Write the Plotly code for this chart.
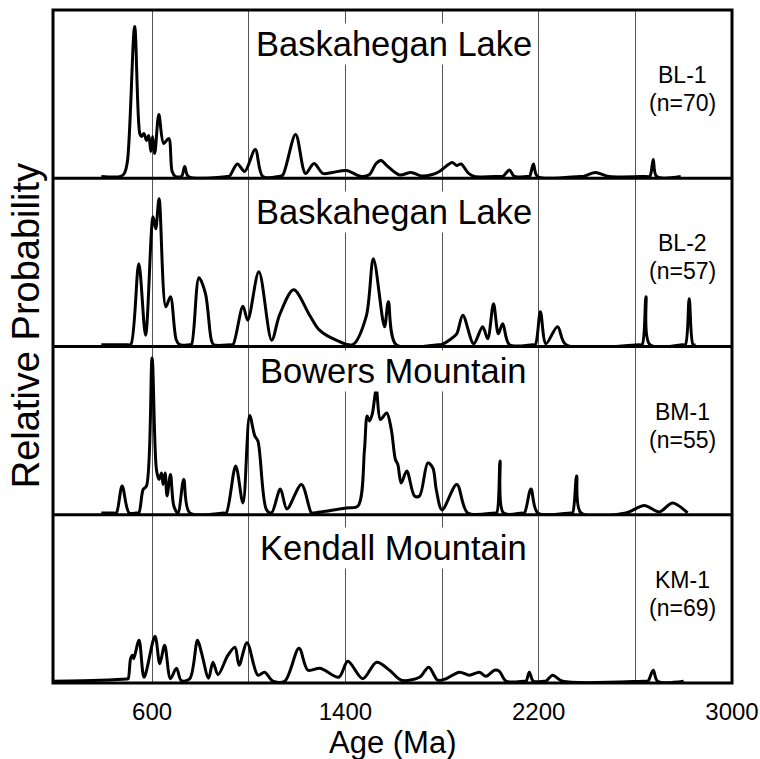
import plotly.graph_objects as go
from plotly.subplots import make_subplots

# ---------------- data ----------------
BL1_AGE = [390, 470, 485, 498, 528, 549, 556, 566, 577, 586, 595, 602, 611, 628, 648, 669, 683, 697,
           722, 735, 750, 910, 921, 953, 983, 1027, 1058, 1125, 1140, 1194, 1235, 1270, 1307, 1347,
           1404, 1466, 1500, 1527, 1548, 1575, 1624, 1672, 1714, 1760, 1789, 1842, 1860, 1879, 1910,
           1934, 2040, 2052, 2079, 2099, 2150, 2162, 2178, 2195, 2370, 2385, 2434, 2492, 2645, 2660,
           2674, 2688, 2788]
BL1_P = [0, 0, 3, 15, 150, 43, 40, 43, 36, 41, 25, 40, 23, 62, 33, 38, 5, 0,
         0, 10, 0, 0, 0.5, 12.5, 5, 27, 0, 0, 1, 42, 3, 13, 3, 4,
         6, 0, 2, 13, 16, 10, 1.5, 4, 0.5, 2, 5, 14, 11, 12.5, 3,
         0, 0, 0, 6.5, 0, 0, 0, 12.5, 0, 0, 0, 4, 0, 0, 0,
         17, 0, 0]

BL2_AGE = [390, 500, 512, 545, 573, 604, 615, 629, 657, 676, 700, 714, 755, 763, 794, 821, 845, 855,
           925, 935, 976, 996, 1042, 1095, 1128, 1186, 1252, 1293, 1362, 1431, 1486, 1516, 1562,
           1578, 1610, 1785, 1796, 1838, 1861, 1886, 1931, 1968, 1989, 2013, 2033, 2051, 2079,
           2175, 2186, 2207, 2230, 2278, 2313, 2615, 2628, 2644, 2660, 2795, 2807, 2823, 2839, 2850]
BL2_P = [0, 0, 0, 81, 9.5, 128, 116, 146, 38, 48, 5, 0, 0, 0, 67, 51, 5, 0,
         0, 0, 38.5, 24.5, 73, 4.5, 30, 55, 29.5, 14.5, 4.5, 0, 28, 86, 18,
         43, 0, 0, 0, 6, 11, 29.5, 1, 18, 6, 41, 11, 21, 0,
         0, 0, 33, 1, 18, 0, 0, 0, 48, 0, 0, 0, 46, 0, 0]

BM1_AGE = [390, 440, 452, 476, 505, 535, 545, 563, 577, 600, 618, 629, 639, 645.5, 654, 662, 676, 690,
           707, 731, 756, 895, 907, 946, 976, 1004, 1025, 1038, 1073, 1094, 1131, 1158, 1218, 1259,
           1266, 1404, 1452, 1479, 1490, 1500, 1511, 1528, 1545, 1571, 1590, 1607, 1617, 1631,
           1654, 1686, 1707, 1741, 1762, 1776, 1800, 1861, 1906, 2015, 2026, 2040, 2054, 2130,
           2141, 2168, 2196, 2330, 2340, 2357, 2375, 2561, 2637, 2699, 2754, 2816]
BM1_P = [0, 0, 0, 27, 0, 0, 0, 23.5, 27, 155, 43.5, 33.5, 40, 28.5, 40, 17, 38.5, 7,
         0, 33.5, 0, 0, 0, 47, 10, 97.5, 77, 72, 3.5, 0, 24, 4, 28.5, 0,
         0, 5, 7, 63, 97, 92, 98.5, 123.5, 93.5, 100, 83.5, 53.5, 48.5, 30,
         42, 17, 17, 50, 45, 23.5, 3, 28.5, 0, 0, 0, 52, 0, 0,
         0, 24, 0, 0, 0, 37, 0, 0, 7.5, 1, 10, 0]

KM1_AGE = [190, 384, 495, 501, 511, 519, 524, 546, 567, 612, 632, 652, 676, 701, 721, 756, 788, 804,
           834, 852, 873, 914, 943, 960, 993, 1038, 1066, 1100, 1149, 1208, 1245, 1296, 1373, 1410,
           1472, 1529, 1583, 1631, 1707, 1745, 1782, 1817, 1872, 1913, 1955, 1982, 2017, 2037,
           2065, 2140, 2148, 2161, 2178, 2222, 2230, 2258, 2299, 2640, 2652, 2674, 2692, 2800]
KM1_P = [0, 1, 2.3, 2.5, 22.5, 26, 22.5, 41, 4, 45, 17.5, 36, 2.5, 13, 0.5, 2.5, 41, 29,
         3, 19, 6.5, 26, 34, 16, 38.5, 6, 9, 0, 0, 33, 11, 13, 4, 20,
         2.5, 19, 11, 1, 4, 14, 1, 2.5, 9, 6, 9, 5, 11, 10,
         0, 0, 0, 9, 0, 0, 0, 6, 0, 0, 0, 11, 0, 0]

PANEL_TITLES = ["Baskahegan Lake", "Baskahegan Lake", "Bowers Mountain", "Kendall Mountain"]
SAMPLE_IDS = ["BL-1", "BL-2", "BM-1", "KM-1"]
SAMPLE_N = ["(n=70)", "(n=57)", "(n=55)", "(n=69)"]
TICK_VALS = [600, 1000, 1400, 1800, 2200, 2600, 3000]
TICK_TEXT = ["600", "", "1400", "", "2200", "", "3000"]
X_TITLE = "Age (Ma)"
Y_TITLE = "Relative Probability"

SERIES = [(BL1_AGE, BL1_P), (BL2_AGE, BL2_P), (BM1_AGE, BM1_P), (KM1_AGE, KM1_P)]

# ---------------- figure ----------------
FONT = "Liberation Sans, Arial, Helvetica, sans-serif"
fig = make_subplots(rows=4, cols=1, shared_xaxes=True, vertical_spacing=0)

for i, (ages, probs) in enumerate(SERIES):
    fig.add_trace(go.Scatter(x=ages, y=probs, mode="lines",
                             line=dict(color="black", width=3, shape="spline", smoothing=0.9),
                             showlegend=False, hoverinfo="skip"), row=i + 1, col=1)

for i in range(4):
    r = i + 1
    fig.update_xaxes(range=[190, 3000], tickvals=TICK_VALS, ticktext=TICK_TEXT,
                     showgrid=True, gridcolor="#555555", gridwidth=1, zeroline=False,
                     showline=False, ticks="", showticklabels=(r == 4), automargin=False,
                     tickfont=dict(family=FONT, size=24, color="black"),
                     ticklabelstandoff=12, row=r, col=1)
    fig.update_yaxes(range=[-1.8, 166.45], showgrid=False, zeroline=False, showline=False,
                     showticklabels=False, ticks="", automargin=False, row=r, col=1)

annotations = []
title_y = [0.80, 0.80, 0.854, 0.80]
for i in range(4):
    xr = "x" if i == 0 else f"x{i + 1}"
    yr = ("y" if i == 0 else f"y{i + 1}") + " domain"
    annotations.append(dict(x=1600, y=title_y[i], xref=xr, yref=yr, text=PANEL_TITLES[i],
                            showarrow=False, xanchor="center", yanchor="middle",
                            font=dict(family=FONT, size=34.5, color="black"),
                            bgcolor="white", borderpad=1))
    annotations.append(dict(x=2797, y=0.613, xref=xr, yref=yr, text=SAMPLE_IDS[i],
                            showarrow=False, xanchor="center", yanchor="middle", borderpad=0,
                            font=dict(family=FONT, size=23, color="black")))
    annotations.append(dict(x=2797, y=0.447, xref=xr, yref=yr, text=SAMPLE_N[i],
                            showarrow=False, xanchor="center", yanchor="middle", borderpad=0,
                            font=dict(family=FONT, size=23, color="black")))

annotations.append(dict(x=0.5, y=0, xref="paper", yref="paper", text=X_TITLE, showarrow=False,
                        xanchor="center", yanchor="middle", yshift=-59,
                        font=dict(family=FONT, size=31, color="black")))
annotations.append(dict(x=0, y=0.53, xref="paper", yref="paper", text=Y_TITLE, showarrow=False,
                        xanchor="center", yanchor="middle", xshift=-27, textangle=-90,
                        font=dict(family=FONT, size=38, color="black")))

shapes = [dict(type="rect", xref="paper", yref="paper", x0=0, x1=1, y0=0, y1=1,
               line=dict(color="black", width=3), layer="above")]
for yy in (0.25, 0.5, 0.75):
    shapes.append(dict(type="line", xref="paper", yref="paper", x0=0, x1=1, y0=yy, y1=yy,
                       line=dict(color="black", width=3), layer="above"))

fig.update_layout(width=760, height=759, margin=dict(l=53, r=28, t=10, b=76),
                  paper_bgcolor="white", plot_bgcolor="white",
                  annotations=annotations, shapes=shapes, showlegend=False)

fig.write_html("out.html")
